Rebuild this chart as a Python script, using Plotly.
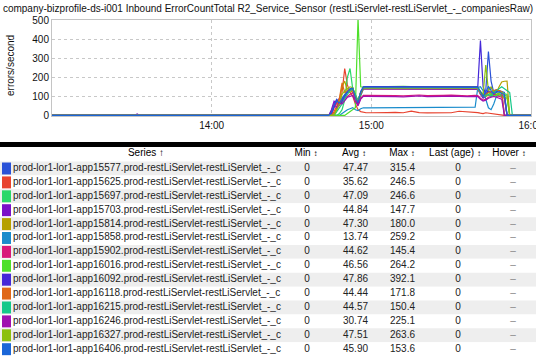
import plotly.graph_objects as go

W, H = 536, 357

TITLE = ("company-bizprofile-ds-i001 Inbound ErrorCountTotal R2_Service_Sensor "
         "(restLiServlet-restLiServlet_-_companiesRaw)")
Y_TITLE = "errors/second"
DAY = "2016-03-01 "

times = ["13:00", "13:31", "13:32", "13:33",
         "14:43", "14:44", "14:45", "14:46", "14:47", "14:48", "14:49", "14:50",
         "14:51", "14:52", "14:53", "14:54", "14:55", "14:56", "14:57", "14:58",
         "15:00", "15:03", "15:06", "15:09", "15:12", "15:15", "15:18", "15:21",
         "15:24", "15:27", "15:30", "15:33", "15:36", "15:39",
         "15:40", "15:41", "15:42", "15:43", "15:44", "15:45", "15:46", "15:47",
         "15:48", "15:49", "15:50", "15:51", "15:52", "15:53", "15:54", "16:00"]

x_range = ["13:00", "16:00"]
x_ticks = ["14:00", "15:00", "16:00"]
y_ticks = [0, 100, 200, 300, 400, 500]

hosts = ["15577", "15625", "15697", "15703", "15814", "15858", "15902",
         "16016", "16092", "16118", "16215", "16246", "16327", "16406"]
colors = ["#2a52d8", "#e8432f", "#2ad86a", "#7a10c8", "#b5a000", "#1a8ccc", "#d8187a",
          "#4ee02a", "#4428d8", "#e06818", "#14c88a", "#a010b0", "#8cc010", "#1a66d8"]

s15577 = [0, 0, 0, 0,
          0, 0, 20, 60, 85, 70, 90, 110, 120, 135, 140, 100, 70, 120, 145, 146,
          147, 148, 146, 147, 149, 148, 147, 146, 148, 147, 148, 149, 147, 148,
          146, 120, 95, 130, 335, 180, 120, 135, 130, 125, 120, 0, 0, 0, 0, 0]
s15625 = [0, 0, 0, 0,
          0, 0, 0, 10, 30, 60, 120, 246, 160, 120, 100, 60, 30, 20, 15, 14,
          14, 13, 15, 16, 14, 22, 15, 13, 14, 15, 14, 22, 20, 15,
          15, 12, 10, 14, 12, 10, 8, 6, 5, 0, 0, 0, 0, 0, 0, 0]
s15697 = [0, 0, 0, 0,
          0, 0, 0, 0, 0, 10, 30, 80, 200, 246, 140, 110, 60, 100, 140, 143,
          143, 144, 142, 143, 145, 144, 143, 142, 144, 143, 144, 145, 143, 144,
          142, 120, 100, 110, 125, 115, 105, 110, 120, 118, 115, 110, 0, 0, 0, 0]
s15703 = [0, 0, 8, 0,
          0, 0, 30, 75, 60, 90, 80, 100, 120, 130, 135, 95, 60, 110, 138, 138,
          138, 137, 139, 138, 136, 138, 139, 137, 138, 139, 137, 138, 139, 138,
          137, 110, 90, 100, 140, 147, 120, 100, 110, 105, 100, 0, 0, 0, 0, 0]
s15814 = [0, 0, 0, 0,
          0, 0, 0, 0, 40, 80, 150, 180, 130, 120, 130, 100, 75, 120, 148, 149,
          149, 150, 148, 149, 151, 150, 149, 148, 150, 149, 150, 151, 150, 149,
          148, 125, 110, 100, 105, 110, 115, 120, 150, 175, 179, 180, 0, 0, 0, 0]
s15858 = [0, 0, 0, 0,
          0, 0, 0, 0, 0, 0, 10, 20, 30, 35, 40, 30, 25, 35, 40, 40,
          40, 42, 41, 43, 40, 42, 41, 40, 42, 43, 41, 42, 41, 43,
          145, 150, 130, 90, 40, 30, 60, 100, 110, 105, 100, 0, 0, 0, 0, 0]
s15902 = [0, 0, 0, 0,
          0, 0, 0, 40, 70, 50, 80, 90, 100, 110, 120, 80, 55, 90, 105, 105,
          105, 103, 106, 104, 102, 105, 107, 104, 103, 105, 106, 104, 103, 105,
          104, 90, 80, 85, 95, 100, 110, 105, 100, 95, 90, 0, 0, 0, 0, 0]
s16016 = [0, 0, 0, 0,
          0, 0, 0, 0, 0, 0, 0, 0, 10, 20, 30, 40, 510, 150, 148, 150,
          150, 151, 149, 150, 152, 151, 150, 149, 151, 150, 151, 152, 150, 151,
          150, 120, 100, 110, 120, 110, 100, 105, 110, 100, 95, 90, 0, 0, 0, 0]
s16092 = [0, 0, 0, 0,
          0, 0, 10, 50, 80, 60, 70, 100, 125, 140, 145, 100, 65, 125, 150, 151,
          151, 150, 152, 151, 150, 152, 151, 150, 151, 152, 150, 151, 152, 151,
          150, 392, 150, 110, 130, 120, 115, 125, 130, 120, 0, 0, 0, 0, 0, 0]
s16118 = [0, 0, 0, 0,
          0, 0, 0, 20, 50, 90, 171, 120, 130, 135, 140, 95, 70, 115, 140, 141,
          141, 140, 142, 141, 139, 141, 142, 140, 141, 142, 140, 141, 142, 141,
          140, 115, 100, 110, 120, 125, 130, 135, 130, 125, 0, 0, 0, 0, 0, 0]
s16215 = [0, 0, 0, 0,
          0, 0, 0, 0, 20, 40, 60, 90, 110, 130, 140, 105, 80, 120, 144, 144,
          144, 145, 143, 144, 146, 145, 144, 143, 145, 144, 145, 146, 144, 145,
          144, 120, 100, 105, 110, 100, 120, 130, 140, 150, 140, 130, 120, 0, 0, 0]
s16246 = [0, 0, 0, 0,
          0, 0, 20, 60, 40, 70, 60, 80, 95, 100, 105, 75, 50, 85, 100, 100,
          100, 98, 101, 99, 97, 100, 102, 99, 98, 100, 101, 99, 98, 100,
          99, 85, 75, 80, 90, 95, 100, 95, 90, 85, 0, 0, 0, 0, 0, 0]
s16327 = [0, 0, 0, 0,
          0, 0, 0, 0, 30, 60, 110, 130, 140, 150, 145, 100, 75, 120, 146, 146,
          146, 147, 145, 146, 148, 147, 146, 145, 147, 146, 147, 148, 146, 147,
          145, 120, 110, 264, 130, 150, 120, 110, 115, 120, 110, 100, 0, 0, 0, 0]
s16406 = [0, 0, 0, 0,
          0, 0, 15, 55, 75, 65, 85, 105, 125, 138, 142, 95, 68, 122, 148, 148,
          148, 149, 147, 148, 150, 149, 148, 147, 149, 148, 149, 150, 148, 149,
          147, 125, 100, 120, 153, 130, 115, 120, 125, 115, 110, 0, 0, 0, 0, 0]

series_values = [s15577, s15625, s15697, s15703, s15814, s15858, s15902,
                 s16016, s16092, s16118, s16215, s16246, s16327, s16406]

# table columns
min_vals = ["0", "0", "0", "0", "0", "0", "0", "0", "0", "0", "0", "0", "0", "0"]
avg_vals = ["47.47", "35.62", "47.09", "44.84", "47.30", "13.74", "44.62",
            "46.56", "47.86", "44.44", "44.57", "30.74", "47.51", "45.90"]
max_vals = ["315.4", "246.5", "246.6", "147.7", "180.0", "259.2", "145.4",
            "264.2", "392.1", "171.8", "150.4", "225.1", "263.6", "153.6"]
last_vals = ["0", "0", "0", "0", "0", "0", "0", "0", "0", "0", "0", "0", "0", "0"]
hover_vals = ["–"] * 14
headers = ["Series ↑", "Min <span style='font-size:8px'>↕</span>",
           "Avg <span style='font-size:8px'>↕</span>",
           "Max <span style='font-size:8px'>↕</span>",
           "Last (age) <span style='font-size:8px'>↕</span>",
           "Hover <span style='font-size:8px'>↕</span>"]

FONT = "Liberation Sans, Arial, Helvetica, sans-serif"
x_times = [DAY + t for t in times]
names = ["prod-lor1-lor1-app%s.prod-restLiServlet-restLiServlet_-_c" % h for h in hosts]
n = len(hosts)
rows = list(range(n))

fig = go.Figure()

for name, col, vals in zip(names, colors, series_values):
    fig.add_trace(go.Scatter(x=x_times, y=vals, mode="lines", name=name,
                             line=dict(color=col, width=1.2),
                             xaxis="x", yaxis="y"))

# table: row stripes
stripe_colors = ["#eeeeee" if i % 2 == 0 else "#ffffff" for i in rows]
fig.add_trace(go.Bar(y=rows, x=[W] * n, base=[0] * n, orientation="h", width=1.0,
                     marker=dict(color=stripe_colors, line=dict(width=0)),
                     xaxis="x2", yaxis="y2", hoverinfo="skip"))
# colour swatches
fig.add_trace(go.Bar(y=rows, x=[9] * n, base=[2] * n, orientation="h", width=0.86,
                     marker=dict(color=colors, line=dict(width=0)),
                     xaxis="x2", yaxis="y2", hoverinfo="skip"))

col_x = {"name": 13, "min": 307, "avg": 355.5, "max": 402.5, "last": 458, "hover": 513}
cell_font = dict(family=FONT, size=10, color="#222")

fig.add_trace(go.Scatter(x=[col_x["name"]] * n, y=rows, text=names, mode="text",
                         textposition="middle right", textfont=cell_font,
                         xaxis="x2", yaxis="y2", hoverinfo="skip"))
for key, vals, fc in [("min", min_vals, "#222"), ("avg", avg_vals, "#222"),
                      ("max", max_vals, "#222"), ("last", last_vals, "#222"),
                      ("hover", hover_vals, "#888")]:
    fig.add_trace(go.Scatter(x=[col_x[key]] * n, y=rows, text=vals, mode="text",
                             textposition="middle center",
                             textfont=dict(family=FONT, size=10, color=fc),
                             xaxis="x2", yaxis="y2", hoverinfo="skip"))

header_x = [146, 306, 354, 402, 455, 509]
fig.add_trace(go.Scatter(x=header_x, y=[-1.05] * len(header_x), text=headers, mode="text",
                         textposition="middle center",
                         textfont=dict(family=FONT, size=10, color="#000"),
                         xaxis="x2", yaxis="y2", hoverinfo="skip"))

fig.add_shape(type="rect", xref="paper", yref="paper", x0=0, x1=1,
              y0=1 - 147 / H, y1=1 - 142 / H, fillcolor="#000", line=dict(width=0))

fig.add_annotation(text=Y_TITLE, xref="paper", yref="paper", x=10 / W, y=1 - 66 / H,
                   textangle=-90, showarrow=False, xanchor="center", yanchor="middle",
                   font=dict(family=FONT, size=10, color="#111"))

grid = dict(showgrid=True, griddash="dot", gridcolor="#c8c8c8", gridwidth=1,
            showline=True, mirror=True, linecolor="#c4c4c4", linewidth=1,
            zeroline=False, ticks="", automargin=False,
            tickfont=dict(family=FONT, size=10, color="#111"))

fig.update_layout(
    width=W, height=H, autosize=False,
    margin=dict(l=0, r=0, t=0, b=0),
    paper_bgcolor="white", plot_bgcolor="white",
    showlegend=False, barmode="overlay",
    font=dict(family=FONT, size=10, color="#222"),
    title=dict(text=TITLE, x=0.5, xanchor="center", xref="paper",
               y=1 - 8 / H, yanchor="middle", yref="container",
               font=dict(family=FONT, size=10, color="#111")),
    xaxis=dict(domain=[52 / W, 531 / W], type="date", anchor="y",
               range=[DAY + x_range[0], DAY + x_range[1]],
               tickvals=[DAY + t for t in x_ticks], ticktext=x_ticks,
               ticklabeloverflow="allow", **grid),
    yaxis=dict(domain=[1 - 116 / H, 1 - 20 / H], range=[-3, 500], anchor="x",
               tickvals=y_ticks, **grid),
    xaxis2=dict(domain=[0, 1], range=[0, W], visible=False, anchor="y2"),
    yaxis2=dict(domain=[0, 1 - 142 / H], range=[13.562, -1.906], visible=False,
                anchor="x2"),
)

fig.write_html("out.html", config={"displayModeBar": False},
               post_script="document.body.style.margin='0';"
                           "document.body.style.overflow='hidden';")
